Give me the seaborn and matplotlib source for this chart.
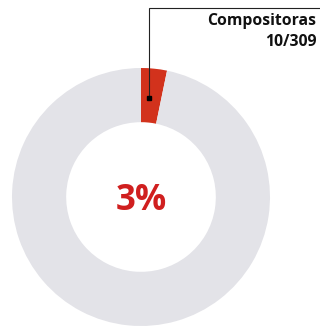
import numpy as np
import matplotlib
matplotlib.use("Agg")
import matplotlib.pyplot as plt
import seaborn as sns

# datos
etiquetas = ["Compositoras", "Compositores"]
valores = [10, 299]
total = sum(valores)
colores = ["#d2321c", "#e3e3e8"]

sns.set_theme(style="white")
plt.rcParams['font.family'] = ['Open Sans', 'DejaVu Sans']

fig = plt.figure(figsize=(3.2, 3.26), dpi=100)
ax = fig.add_axes([12 / 320, 0, 258 / 320, 258 / 326])

wedges, _ = ax.pie(valores, colors=colores, startangle=90, counterclock=False,
                   radius=1, wedgeprops=dict(width=0.42, edgecolor="none"))
ax.set_xlim(-1, 1)
ax.set_ylim(-1, 1)
ax.set_aspect("equal")
ax.axis("off")

pct = round(100 * valores[0] / total)
ax.text(0, -0.03, f"{pct}%", color="#d01f1f", fontsize=25, fontweight="bold",
        ha="center", va="center")

# línea guía desde el segmento rojo
ang = np.deg2rad(90 - 360 * valores[0] / total / 2.6)
px, py = 0.77 * np.cos(ang), 0.77 * np.sin(ang)
top_y = 1.465
ax.plot([px, px, 1.40], [py, top_y, top_y], color="#222222", lw=0.8,
        clip_on=False, solid_joinstyle="miter")
ax.plot([px], [py], marker="s", ms=2.5, color="black", clip_on=False)
ax.text(1.36, 1.425, f"{etiquetas[0]}\n{valores[0]}/{total}", ha="right", va="top",
        fontsize=11.3, fontweight="bold", color="#111111", linespacing=1.4,
        clip_on=False)

fig.savefig("out.png", dpi=100, facecolor="white")
